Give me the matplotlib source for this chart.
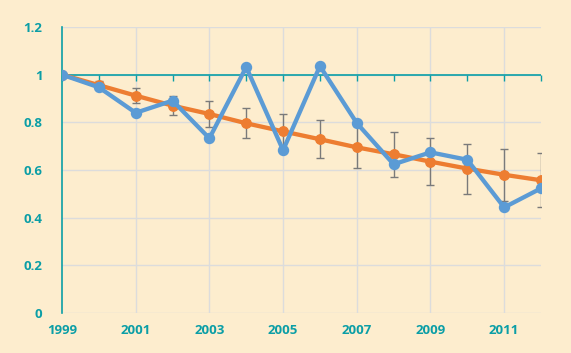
import matplotlib
matplotlib.use("Agg")
import matplotlib.pyplot as plt
from matplotlib.ticker import FuncFormatter

years = [1999, 2000, 2001, 2002, 2003, 2004, 2005, 2006, 2007, 2008, 2009, 2010, 2011, 2012]
trend = [1.0, 0.956, 0.912, 0.870, 0.835, 0.796, 0.762, 0.729, 0.695, 0.666, 0.635, 0.606, 0.580, 0.557]
trend_err = [0.0, 0.018, 0.03, 0.04, 0.053, 0.063, 0.073, 0.08, 0.088, 0.094, 0.10, 0.105, 0.11, 0.113]
actual = [1.0, 0.947, 0.840, 0.891, 0.733, 1.032, 0.683, 1.036, 0.797, 0.624, 0.674, 0.643, 0.443, 0.523]
xlabels = [1999, 2001, 2003, 2005, 2007, 2009, 2011]
yticks = [0, 0.2, 0.4, 0.6, 0.8, 1.0, 1.2]

bg = "#FDEDCE"
teal = "#0B9EA6"
orange = "#ED7D31"
blue = "#5B9BD5"
grid = "#DCDCDC"

fig = plt.figure(figsize=(5.71, 3.53), dpi=100, facecolor=bg)
ax = fig.add_axes([62/571, 40/353, (541-62)/571, (313-27)/353], facecolor=bg)

ax.set_xlim(1999, 2012)
ax.set_ylim(0, 1.2)

for y in yticks:
    ax.axhline(y, color=grid, lw=1, zorder=0)
for x in xlabels[1:]:
    ax.axvline(x, color=grid, lw=1, zorder=0)

ax.errorbar(years, trend, yerr=trend_err, fmt="none", ecolor="#7A7A7A",
            elinewidth=1, capsize=3, capthick=1, zorder=2)
ax.plot(years, trend, color=orange, lw=3.1, marker="o", ms=6.8, zorder=3)
ax.plot(years, actual, color=blue, lw=3.1, marker="o", ms=7.2, zorder=4)

# x-axis line crossing at y=1
ax.axhline(1, color=teal, lw=1.2, zorder=1)
sec = ax.secondary_xaxis(1/1.2)
sec.set_xticks(years)
sec.tick_params(axis="x", direction="out", length=4, width=1, color=teal, labelbottom=False, labeltop=False, bottom=True, top=False)
for s in sec.spines.values():
    s.set_visible(False)

for side in ["top", "right", "bottom"]:
    ax.spines[side].set_visible(False)
ax.spines["left"].set_color(teal)
ax.spines["left"].set_linewidth(1.2)

ax.set_xticks(xlabels)
ax.set_xticklabels([str(v) for v in xlabels])
ax.set_yticks(yticks)
ax.yaxis.set_major_formatter(FuncFormatter(lambda v, p: f"{v:g}"))
ax.tick_params(axis="both", length=0, labelcolor=teal, labelsize=9.5)
ax.tick_params(axis="x", pad=8)
ax.tick_params(axis="y", pad=14)
for lab in ax.get_xticklabels() + ax.get_yticklabels():
    lab.set_fontweight("bold")
    lab.set_fontfamily("Open Sans")

fig.savefig("out.png", dpi=100, facecolor=bg)
